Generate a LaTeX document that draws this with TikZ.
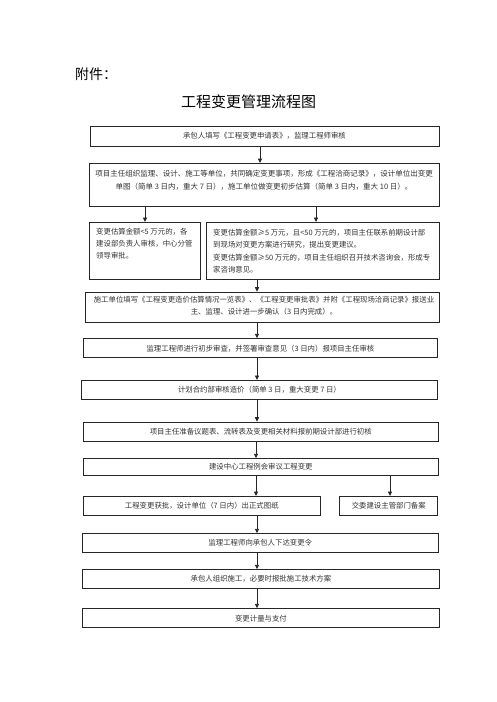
\documentclass[tikz,border=0pt]{standalone}
\usepackage{fontspec}
\newfontfamily\cjk{Noto Sans CJK SC}
\usetikzlibrary{arrows.meta}
\begin{document}
\begin{tikzpicture}[x=1pt,y=-1pt,
  box/.style={draw=black!85, line width=0.9pt, inner sep=0pt, anchor=north west,
    font=\cjk\fontsize{7.4}{12}\selectfont, text=black!80},
  txt/.style={font=\cjk\fontsize{7.4}{12}\selectfont, text=black!80, inner sep=0pt},
  arr/.style={-{Triangle[length=4.5pt,width=4pt]}, line width=0.9pt, draw=black!85}]
\useasboundingbox[fill=white] (0,0) rectangle (496,702);

\node[font=\cjk\fontsize{14}{14}\selectfont, anchor=west, inner sep=0pt] (att) at (75,74) {附件：};
\node[font=\cjk\fontsize{15}{15}\selectfont, inner sep=0pt] (title) at (248.5,101.7) {工程变更管理流程图};

\node[box, minimum width=349pt, minimum height=19.5pt] (b1) at (89.5,126) {承包人填写《工程变更申请表》，监理工程师审核};

\node[box, minimum width=350pt, minimum height=43pt] (b2) at (88.5,163) {};
\node[txt, align=center, font=\cjk\fontsize{7.5}{13}\selectfont] (t2) at (264,180.5)
  {项目主任组织监理、设计、施工等单位，共同确定变更事项，形成《工程洽商记录》，设计单位出变更\\
   单图（简单 3 日内，重大 7 日），施工单位做变更初步估算（简单 3 日内，重大 10 日）。};

\node[box, minimum width=110.2pt, minimum height=57pt] (b3a) at (89.3,222) {};
\node[txt, align=left, anchor=north west, font=\cjk\fontsize{7.4}{11.9}\selectfont] (t3a) at (96,228.3)
  {变更估算金额<5 万元的，各\\建设部负责人审核，中心分管\\领导审批。};

\node[box, minimum width=233.3pt, minimum height=57pt] (b3b) at (205.7,222) {};
\node[txt, align=left, anchor=north west, font=\cjk\fontsize{7.4}{12.4}\selectfont] (t3b) at (213,229)
  {变更估算金额≥5 万元，且<50 万元的，项目主任联系前期设计部\\
   到现场对变更方案进行研究，提出变更建议。\\
   变更估算金额≥50 万元的，项目主任组织召开技术咨询会，形成专\\
   家咨询意见。};

\node[box, minimum width=353.5pt, minimum height=30pt] (b4) at (85,291.7) {};
\node[txt, align=center, font=\cjk\fontsize{7.4}{11.7}\selectfont] (t4) at (264,306)
  {施工单位填写《工程变更造价估算情况一览表》、《工程变更审批表》并附《工程现场洽商记录》报送业\\
   主、监理、设计进一步确认（3 日内完成）。};

\node[box, minimum width=354.6pt, minimum height=19pt] (b5) at (82.7,338.3) {监理工程师进行初步审查，并签署审查意见（3 日内）报项目主任审核};
\node[box, minimum width=356pt, minimum height=19.3pt] (b6) at (81,380) {计划合约部审核造价（简单 3 日，重大变更 7 日）};
\node[box, minimum width=355.3pt, minimum height=19pt] (b7) at (82.7,421.7) {项目主任准备议题表、流转表及变更相关材料报前期设计部进行初核};
\node[box, minimum width=355.3pt, minimum height=16.7pt] (b8) at (82.7,458.3) {建设中心工程例会审议工程变更};
\node[box, minimum width=237.3pt, minimum height=19pt] (b9a) at (82.7,496) {工程变更获批，设计单位（7 日内）出正式图纸};
\node[box, minimum width=98pt, minimum height=18.5pt] (b9b) at (339.3,496) {交委建设主管部门备案};
\node[box, minimum width=356.3pt, minimum height=18.4pt] (b10) at (81.7,533.3) {监理工程师向承包人下达变更令};
\node[box, minimum width=357.6pt, minimum height=19pt] (b11) at (81.7,569.3) {承包人组织施工，必要时报批施工技术方案};
\node[box, minimum width=357.6pt, minimum height=19pt] (b12) at (81.7,608.3) {变更计量与支付};

\draw[arr] (b1.south -| 260,0) -- (b2.north -| 260,0);
\draw[arr] (b2.south -| 145,0) -- (b3a.north -| 145,0);
\draw[arr] (b2.south -| 316,0) -- (b3b.north -| 316,0);
\draw[arr] (b3b.south -| 257,0) -- (b4.north -| 257,0);
\draw[arr] (b4.south -| 257,0) -- (b5.north -| 257,0);
\draw[arr] (b5.south -| 257,0) -- (b6.north -| 257,0);
\draw[arr] (b6.south -| 257,0) -- (b7.north -| 257,0);
\draw[arr] (b7.south -| 256,0) -- (b8.north -| 256,0);
\draw[arr] (b8.south -| 256,0) -- (b9a.north -| 256,0);
\draw[arr] (b8.south -| 390,0) -- (b9b.north -| 390,0);
\draw[arr] (b9a.south -| 257,0) -- (b10.north -| 257,0);
\draw[arr] (b10.south -| 257,0) -- (b11.north -| 257,0);
\draw[arr] (b11.south -| 257,0) -- (b12.north -| 257,0);
\end{tikzpicture}
\end{document}
